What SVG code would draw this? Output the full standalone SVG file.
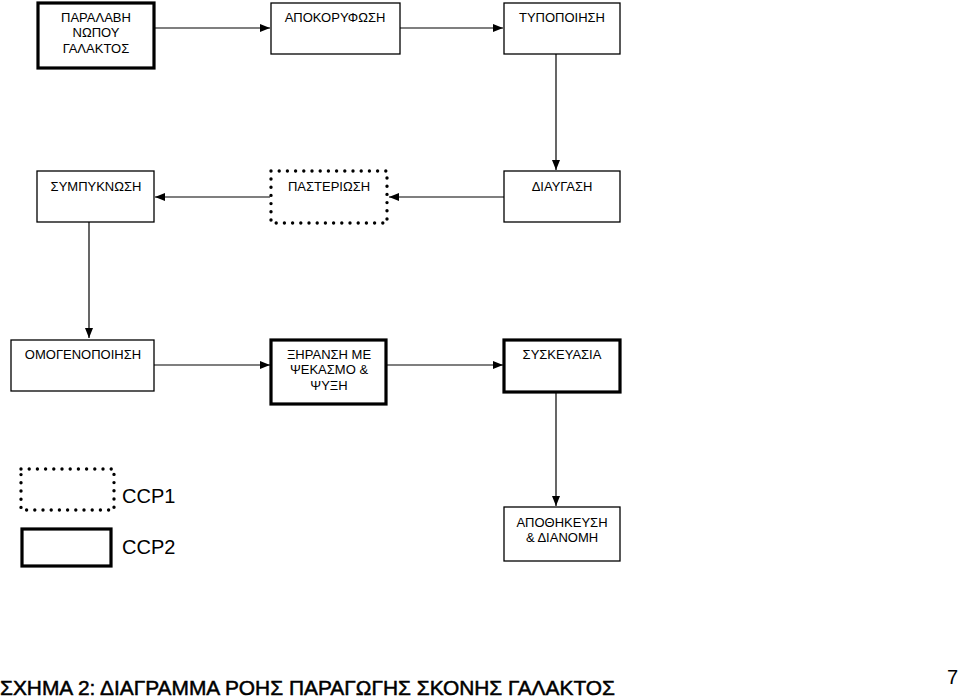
<svg xmlns="http://www.w3.org/2000/svg" width="960" height="700" viewBox="0 0 960 700">
<style>
.box{fill:#fff;stroke:#000;stroke-width:1.3}
.ccp2{fill:#fff;stroke:#000;stroke-width:3.2}
.ccp1{fill:#fff;stroke:#000;stroke-width:3.4;stroke-dasharray:0 8.2;stroke-linecap:round;stroke-linejoin:round}
.t{font-family:"Liberation Sans",Arial,sans-serif;font-size:13px;text-anchor:middle;fill:#000}
.edge{stroke:#000;stroke-width:1.2;fill:none;marker-end:url(#arr)}
.big{font-family:"Liberation Sans",Arial,sans-serif;font-size:20px;fill:#000}
</style>
<defs>
<marker id="arr" viewBox="0 0 10 10" refX="10" refY="5" markerWidth="10" markerHeight="10" markerUnits="userSpaceOnUse" orient="auto">
<path d="M0,1 L10,5 L0,9 Z" fill="#000"/>
</marker>
</defs>
<rect width="960" height="700" fill="#fff"/>
<g id="connectors">
<line class="edge" x1="155" y1="28" x2="270" y2="28"/>
<line class="edge" x1="400" y1="28" x2="503" y2="28"/>
<line class="edge" x1="556" y1="54" x2="556" y2="170"/>
<line class="edge" x1="504" y1="197" x2="389" y2="197"/>
<line class="edge" x1="270" y1="197" x2="155" y2="197"/>
<line class="edge" x1="89" y1="222" x2="89" y2="338"/>
<line class="edge" x1="154" y1="365" x2="270" y2="365"/>
<line class="edge" x1="387" y1="365" x2="503" y2="365"/>
<line class="edge" x1="556" y1="392" x2="556" y2="506"/>
</g>
<g id="n1"><rect class="ccp2" x="38" y="3" width="116" height="65"/>
<text class="t" x="96" y="22">ΠΑΡΑΛΑΒΗ</text><text class="t" x="96" y="37">ΝΩΠΟΥ</text><text class="t" x="96" y="53">ΓΑΛΑΚΤΟΣ</text></g>
<g id="n2"><rect class="box" x="271" y="3" width="129" height="51"/><text class="t" x="335" y="22">ΑΠΟΚΟΡΥΦΩΣΗ</text></g>
<g id="n3"><rect class="box" x="504" y="3" width="116" height="51"/><text class="t" x="562" y="22">ΤΥΠΟΠΟΙΗΣΗ</text></g>
<g id="n4"><rect class="box" x="37" y="171" width="117" height="51"/><text class="t" x="96" y="191">ΣΥΜΠΥΚΝΩΣΗ</text></g>
<g id="n5"><rect class="ccp1" x="271" y="171" width="116" height="52"/><text class="t" x="329" y="191">ΠΑΣΤΕΡΙΩΣΗ</text></g>
<g id="n6"><rect class="box" x="504" y="171" width="116" height="51"/><text class="t" x="562" y="191">ΔΙΑΥΓΑΣΗ</text></g>
<g id="n7"><rect class="box" x="11" y="340" width="143" height="51"/><text class="t" x="83" y="359">ΟΜΟΓΕΝΟΠΟΙΗΣΗ</text></g>
<g id="n8"><rect class="ccp2" x="271" y="340" width="115" height="64"/>
<text class="t" x="329" y="359">ΞΗΡΑΝΣΗ ΜΕ</text><text class="t" x="329" y="374">ΨΕΚΑΣΜΟ &amp;</text><text class="t" x="329" y="390">ΨΥΞΗ</text></g>
<g id="n9"><rect class="ccp2" x="504" y="340" width="116" height="52"/><text class="t" x="562" y="359">ΣΥΣΚΕΥΑΣΙΑ</text></g>
<g id="n10"><rect class="box" x="504" y="507" width="116" height="54"/>
<text class="t" x="562" y="527">ΑΠΟΘΗΚΕΥΣΗ</text><text class="t" x="562" y="542">&amp; ΔΙΑΝΟΜΗ</text></g>
<g id="legend">
<rect class="ccp1" x="21" y="469" width="93" height="41"/>
<text class="big" x="122" y="503">CCP1</text>
<rect class="ccp2" x="22" y="529" width="89" height="37"/>
<text class="big" x="122" y="554">CCP2</text>
</g>
<text x="0" y="695" font-family="'Liberation Sans',Arial,sans-serif" font-size="21" stroke="#000" stroke-width="0.5" textLength="615" lengthAdjust="spacingAndGlyphs" fill="#000">ΣΧΗΜΑ 2: ΔΙΑΓΡΑΜΜΑ ΡΟΗΣ ΠΑΡΑΓΩΓΗΣ ΣΚΟΝΗΣ ΓΑΛΑΚΤΟΣ</text>
<text x="947" y="684" font-family="'Liberation Sans',Arial,sans-serif" font-size="20" fill="#000">7</text>
</svg>
